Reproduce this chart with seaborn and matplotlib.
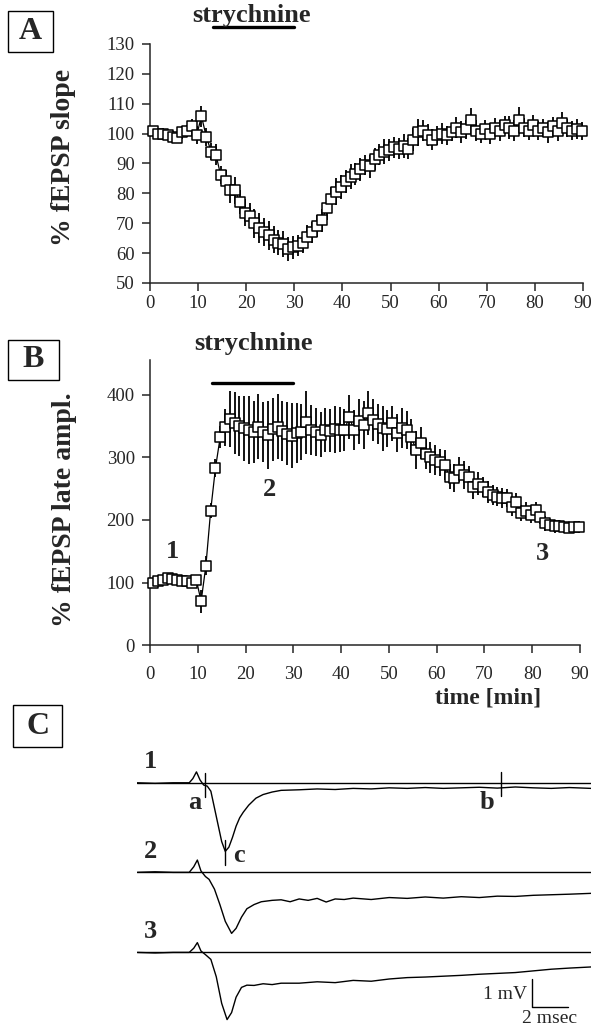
import matplotlib
matplotlib.use("Agg")
import matplotlib.pyplot as plt
import matplotlib.patches as mpatches
import numpy as np
import pandas as pd
import seaborn as sns

# ---------------- data ----------------
time_min = [0.7, 1.7, 2.7, 3.7, 4.7, 5.7, 6.7, 7.7, 8.7, 9.7,
            10.7, 11.7, 12.7, 13.7, 14.7, 15.7, 16.7, 17.7, 18.7, 19.7,
            20.7, 21.7, 22.7, 23.7, 24.7, 25.7, 26.7, 27.7, 28.7, 29.7,
            30.7, 31.7, 32.7, 33.7, 34.7, 35.7, 36.7, 37.7, 38.7, 39.7,
            40.7, 41.7, 42.7, 43.7, 44.7, 45.7, 46.7, 47.7, 48.7, 49.7,
            50.7, 51.7, 52.7, 53.7, 54.7, 55.7, 56.7, 57.7, 58.7, 59.7,
            60.7, 61.7, 62.7, 63.7, 64.7, 65.7, 66.7, 67.7, 68.7, 69.7,
            70.7, 71.7, 72.7, 73.7, 74.7, 75.7, 76.7, 77.7, 78.7, 79.7,
            80.7, 81.7, 82.7, 83.7, 84.7, 85.7, 86.7, 87.7, 88.7, 89.7]

slope_pct = [101, 100, 100, 99.5, 99, 98.5, 100.5, 101, 102.5, 99.5,
             105.8, 99, 94, 93, 86, 84, 81, 81, 77, 73.5,
             72.5, 70, 68.5, 67, 66, 64.5, 63.5, 63, 61.5, 62,
             62.5, 63.5, 65.5, 67, 69, 71, 75, 78, 80.5, 82,
             84, 85.5, 86.5, 88, 89.5, 89, 91.5, 93, 94, 94.5,
             95.5, 95, 96, 95, 98, 100.5, 101, 99.5, 98, 99.5,
             100, 99.5, 100.5, 102, 100.5, 101.5, 104.5, 101, 100, 101.5,
             100, 102, 101, 103, 102, 101, 104.5, 102, 101, 103,
             101, 102, 100.5, 102.5, 101, 103.5, 102, 101, 101.5, 101]

slope_sem = [1.5, 1.2, 1.8, 1.5, 2.0, 1.8, 2.2, 2.0, 2.5, 3.0,
             3.5, 3.0, 2.8, 3.5, 3.0, 3.8, 4.2, 4.5, 4.0, 4.5,
             4.2, 4.8, 5.0, 4.6, 4.8, 4.5, 4.2, 4.4, 4.0, 3.8,
             3.6, 3.4, 3.8, 3.5, 3.6, 3.8, 4.0, 4.2, 4.5, 4.0,
             3.8, 4.2, 3.6, 3.8, 3.5, 4.0, 3.8, 3.6, 4.2, 3.8,
             3.5, 3.6, 4.0, 3.4, 3.8, 4.5, 3.6, 3.8, 3.4, 3.2,
             3.5, 3.2, 3.0, 3.4, 3.6, 3.2, 4.0, 3.5, 3.3, 3.0,
             3.4, 3.2, 3.6, 3.0, 3.8, 3.5, 4.5, 3.2, 3.0, 3.4,
             3.2, 3.0, 3.5, 3.2, 3.4, 3.6, 3.0, 3.2, 3.4, 3.0]

late_pct = [100, 102, 104, 108, 106, 104, 103, 102, 100, 104,
            70, 127, 215, 283, 333, 348, 362, 355, 350, 347,
            344, 341, 349, 340, 336, 345, 349, 342, 338, 335,
            339, 341, 356, 344, 341, 336, 344, 343, 345, 344,
            344, 365, 344, 358, 352, 371, 360, 353, 347, 346,
            355, 339, 347, 344, 333, 312, 323, 305, 300, 296,
            292, 288, 269, 267, 280, 272, 269, 253, 258, 253,
            245, 240, 237, 235, 235, 221, 229, 211, 215, 208,
            216, 205, 195, 192, 190, 191, 189, 188, 189, 189]

late_sem = [6, 5, 7, 6, 5, 6, 5, 6, 7, 8,
            18, 15, 12, 14, 18, 30, 45, 50, 48, 52,
            55, 50, 52, 48, 55, 50, 52, 48, 50, 52,
            48, 45, 50, 40, 38, 36, 35, 34, 38, 36,
            34, 35, 32, 36, 38, 35, 34, 32, 36, 30,
            28, 30, 32, 30, 28, 30, 26, 24, 25, 24,
            22, 24, 20, 22, 20, 22, 18, 20, 18, 16,
            18, 16, 15, 16, 14, 15, 14, 13, 14, 12,
            12, 11, 12, 10, 10, 9, 10, 9, 8, 9]

strychnine_period = [13, 30]          # min
slope_ticks = [50, 60, 70, 80, 90, 100, 110, 120, 130]
late_ticks = [0, 100, 200, 300, 400]
time_ticks = [0, 10, 20, 30, 40, 50, 60, 70, 80, 90]

# Panel C: field potential traces (ms, mV relative to each trace's baseline)
trace1_ms = [0, 1, 2, 2.9, 3.1, 3.3, 3.5, 3.7, 3.9, 4.1, 4.3, 4.5, 4.7, 4.9, 5.1,
             5.3, 5.5, 5.7, 5.9, 6.2, 6.6, 7.0, 7.5, 8.0, 9, 10, 11, 12, 13, 14,
             15, 16, 17, 18, 19, 20, 21, 22, 23, 24, 25.2]
trace1_mv = [0, -0.02, 0.0, 0.0, 0.15, 0.39, 0.1, -0.08, -0.12, -0.3, -0.9, -1.5,
             -2.1, -2.45, -2.3, -1.95, -1.55, -1.25, -1.05, -0.8, -0.55, -0.42,
             -0.33, -0.27, -0.25, -0.22, -0.24, -0.2, -0.22, -0.18, -0.2, -0.17,
             -0.2, -0.18, -0.16, -0.19, -0.15, -0.18, -0.2, -0.17, -0.2]
trace2_ms = [0, 1, 2, 2.9, 3.15, 3.35, 3.55, 3.8, 4.0, 4.3, 4.6, 4.9, 5.25, 5.5,
             5.8, 6.1, 6.5, 6.9, 7.5, 8.0, 8.5, 9.0, 9.5, 10.0, 10.5, 11, 11.5,
             12, 13, 14, 15, 16, 17, 18, 19, 20, 21, 22, 23, 24, 25.2]
trace2_mv = [0, 0.02, 0, 0, 0.2, 0.44, 0.05, -0.15, -0.25, -0.6, -1.15, -1.75,
             -2.18, -2.0, -1.6, -1.3, -1.15, -1.05, -1.0, -0.98, -1.05, -0.95,
             -1.0, -0.93, -1.06, -0.95, -0.97, -0.92, -0.97, -0.9, -0.93, -0.88,
             -0.92, -0.87, -0.9, -0.85, -0.86, -0.82, -0.8, -0.78, -0.75]
trace3_ms = [0, 1, 2, 2.9, 3.15, 3.35, 3.55, 3.8, 4.1, 4.4, 4.7, 5.0, 5.25, 5.5,
             5.8, 6.1, 6.5, 7.0, 7.5, 8, 9, 10, 11, 12, 13, 14, 15, 16, 17, 18,
             19, 20, 21, 22, 23, 24, 25.2]
trace3_mv = [0, -0.02, 0, 0, 0.15, 0.35, 0.05, -0.08, -0.25, -0.87, -1.82, -2.4,
             -2.15, -1.6, -1.25, -1.17, -1.18, -1.12, -1.15, -1.1, -1.1, -1.05,
             -1.08, -1.0, -1.03, -0.95, -0.9, -0.88, -0.85, -0.82, -0.78, -0.75,
             -0.72, -0.66, -0.6, -0.56, -0.52]
trace_labels = ["1", "2", "3"]
measure_points = {"a": 3.8, "b": 20.2, "c": 4.9}   # ms
scale_ms, scale_mv = 2, 1

# ---------------- style ----------------
sns.set_style("ticks")
plt.rcParams['font.family'] = ['Liberation Serif', 'DejaVu Serif']
plt.rcParams['axes.linewidth'] = 1.1
plt.rcParams['xtick.major.width'] = 1.1
plt.rcParams['ytick.major.width'] = 1.1

W, H = 591, 1027
fig = plt.figure(figsize=(W / 100, H / 100), dpi=100)


def frac_rect(l, r, top, bot):
    return [l / W, 1 - bot / H, (r - l) / W, (bot - top) / H]


def panel_label(letter, l, r, top, bot):
    fig.add_artist(mpatches.Rectangle((l / W, 1 - bot / H), (r - l) / W, (bot - top) / H,
                                      transform=fig.transFigure, fill=False,
                                      ec='black', lw=1.0))
    fig.text((l + r) / 2 / W, 1 - (top + bot) / 2 / H, letter, ha='center',
             va='center', fontsize=23, fontweight='bold')


def timecourse(ax, y, err, ylim, yticks, ylabel, xpad, ylab_pos):
    df = pd.DataFrame({"time": time_min, "val": y, "err": err})
    ax.errorbar(df["time"], df["val"], yerr=df["err"], fmt='none', ecolor='black',
                elinewidth=1.3, capsize=0, zorder=2)
    sns.lineplot(data=df, x="time", y="val", ax=ax, color='black', lw=0.9,
                 zorder=2.5, sort=False)
    sns.scatterplot(data=df, x="time", y="val", ax=ax, marker='s', s=62,
                    facecolor='white', edgecolor='black', linewidth=1.1,
                    zorder=3, clip_on=False)
    ax.set_xlim(0, 90)
    ax.set_ylim(*ylim)
    ax.set_xticks(time_ticks)
    ax.set_yticks(yticks)
    ax.tick_params(axis='both', direction='out', length=6, labelsize=13.5)
    ax.tick_params(axis='x', pad=xpad)
    ax.tick_params(axis='y', pad=5)
    ax.set_xlabel("")
    ax.set_ylabel(ylabel, fontsize=20, fontweight='bold')
    ax.yaxis.set_label_coords(*ylab_pos)
    sns.despine(ax=ax)


# ---------------- panel A ----------------
axA = fig.add_axes(frac_rect(150, 583, 44, 283))
timecourse(axA, slope_pct, slope_sem, (50, 130), slope_ticks, "% fEPSP slope",
           3, (-0.172, 0.527))
axA.plot(strychnine_period, [135.6, 135.6], color='black', lw=2.4, clip_on=False)
axA.text(21, 139.5, "strychnine", ha='center', va='center', fontsize=19,
         fontweight='bold', clip_on=False)
panel_label("A", 8, 53, 11, 52)

# ---------------- panel B ----------------
axB = fig.add_axes(frac_rect(150, 580, 360, 645))
timecourse(axB, late_pct, late_sem, (0, 456), late_ticks, "% fEPSP late ampl.",
           9, (-0.170, 0.474))
axB.plot(strychnine_period, [419, 419], color='black', lw=2.4, clip_on=False)
axB.text(21.6, 483, "strychnine", ha='center', va='center', fontsize=19,
         fontweight='bold', clip_on=False)
for lab, tx, vy in zip(trace_labels, [4.8, 25, 82.2], [149, 248, 147]):
    axB.text(tx, vy, lab, ha='center', va='center', fontsize=19, fontweight='bold')
fig.text(488 / W, 1 - 698 / H, "time [min]", ha='center', va='center',
         fontsize=17, fontweight='bold')
panel_label("B", 8, 59, 340, 380)

# ---------------- panel C ----------------
panel_label("C", 13, 62, 705, 747)
axC = fig.add_axes(frac_rect(137, 591, 752, 1027))
axC.set_xlim(0, 25.2)
axC.set_ylim(-8.725, 1.1)
offsets = [0.0, -3.2, -6.06]
traces = [(trace1_ms, trace1_mv), (trace2_ms, trace2_mv), (trace3_ms, trace3_mv)]
for (tms, tmv), off, lab in zip(traces, offsets, trace_labels):
    axC.plot([0, 25.2], [off, off], color='black', lw=1.0)
    sns.lineplot(x=tms, y=np.array(tmv) + off, ax=axC, color='black', lw=1.0,
                 sort=False)
    axC.text(0.75, off + 0.75, lab, ha='center', va='center', fontsize=19,
             fontweight='bold')
axC.axis('off')
# measurement markers on trace 1
axC.plot([measure_points["a"]] * 2, [0.35, -0.51], color='black', lw=1.0)
axC.plot([measure_points["b"]] * 2, [0.4, -0.48], color='black', lw=1.0)
axC.plot([measure_points["c"]] * 2, [-2.05, -2.94], color='black', lw=1.0)
axC.text(measure_points["a"] - 0.6, -0.72, "a", ha='center', va='center',
         fontsize=19, fontweight='bold')
axC.text(measure_points["b"] - 0.8, -0.72, "b", ha='center', va='center',
         fontsize=19, fontweight='bold')
axC.text(measure_points["c"] + 0.75, -2.58, "c", ha='center', va='center',
         fontsize=19, fontweight='bold')
# scale bar
sb_x, sb_y = 21.9, -8.01
axC.plot([sb_x, sb_x, sb_x + scale_ms], [sb_y + scale_mv, sb_y, sb_y],
         color='black', lw=1.0)
axC.text(sb_x - 0.25, sb_y + 0.45, f"{scale_mv} mV", ha='right', va='center',
         fontsize=14)
axC.text(sb_x + scale_ms / 2, sb_y - 0.1, f"{scale_ms} msec", ha='center',
         va='top', fontsize=14)

fig.savefig("out.png", dpi=100)
